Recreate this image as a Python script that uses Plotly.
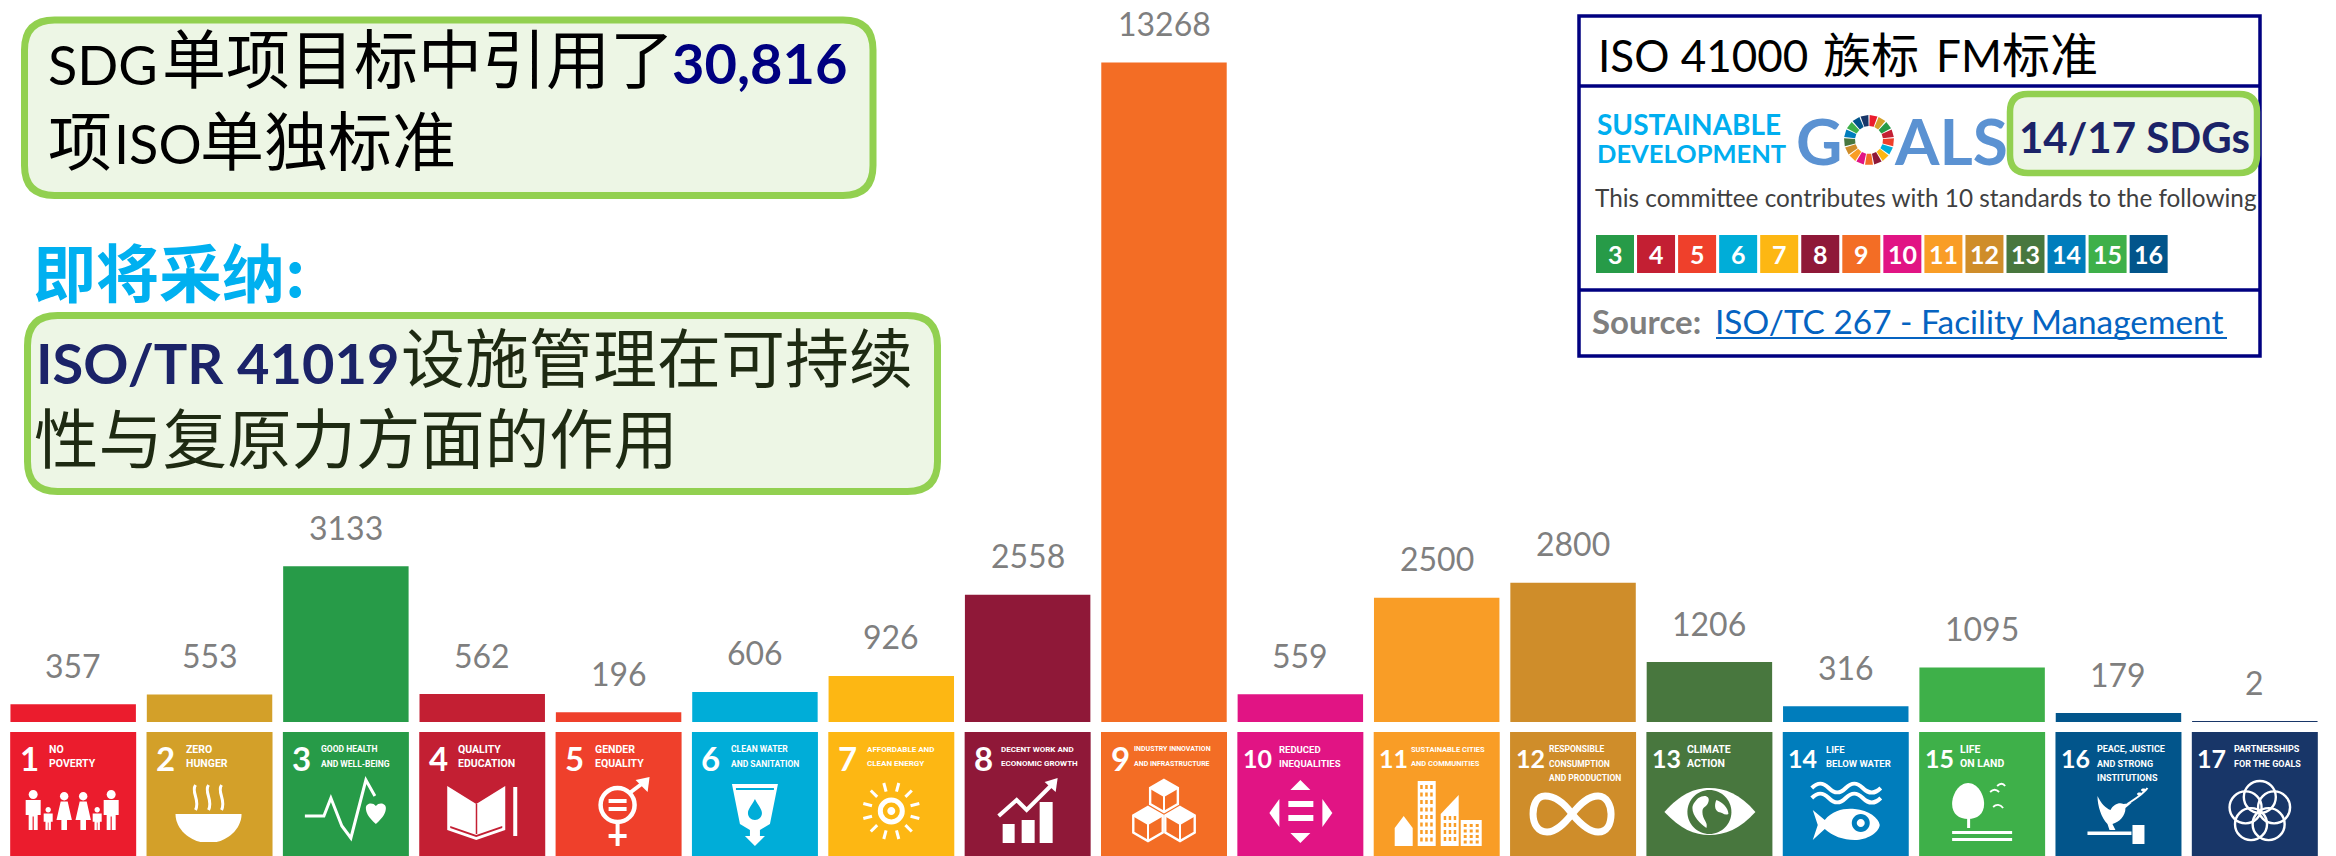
import math
import re
import plotly.graph_objects as go

# Citations per Sustainable Development Goal
goal_numbers = [1, 2, 3, 4, 5, 6, 7, 8, 9, 10, 11, 12, 13, 14, 15, 16, 17]
citations = [357, 553, 3133, 562, 196, 606, 926, 2558, 13268, 559, 2500, 2800, 1206, 316, 1095, 179, 2]
goal_colors = ["#EB1C2D", "#D3A029", "#279B48", "#C31F33", "#EF402B", "#00ADD8", "#FDB713", "#8F1838",
               "#F36D25", "#E11484", "#F99D26", "#CF8D2A", "#48773E", "#007DBC", "#3EB049", "#02558B", "#183668"]
goal_titles = [
    ["NO", "POVERTY"], ["ZERO", "HUNGER"], ["GOOD HEALTH", "AND WELL-BEING"], ["QUALITY", "EDUCATION"],
    ["GENDER", "EQUALITY"], ["CLEAN WATER", "AND SANITATION"], ["AFFORDABLE AND", "CLEAN ENERGY"],
    ["DECENT WORK AND", "ECONOMIC GROWTH"], ["INDUSTRY INNOVATION", "AND INFRASTRUCTURE"],
    ["REDUCED", "INEQUALITIES"], ["SUSTAINABLE CITIES", "AND COMMUNITIES"],
    ["RESPONSIBLE", "CONSUMPTION", "AND PRODUCTION"], ["CLIMATE", "ACTION"], ["LIFE", "BELOW WATER"],
    ["LIFE", "ON LAND"], ["PEACE, JUSTICE", "AND STRONG", "INSTITUTIONS"], ["PARTNERSHIPS", "FOR THE GOALS"],
]
title_offsets = [37, 37, 36, 37, 37, 37, 37, 34, 31, 40, 35, 37, 39, 41, 39, 40, 40]
title_sizes = [10.5, 10.5, 8.5, 10.5, 10.5, 8.5, 8, 8, 7, 9.5, 7.5, 8.5, 10.5, 9.5, 10.5, 9, 9]
committee_goals = [3, 4, 5, 6, 7, 8, 9, 10, 11, 12, 13, 14, 15, 16]

WIDTH, HEIGHT = 2336, 856
PLOT_LEFT, PLOT_RIGHT = 5, 2323
BASELINE = 722
PX_PER_UNIT = 0.0497
TILE_TOP, TILE_W = 732, 126
STEP = (PLOT_RIGHT - PLOT_LEFT) / 17

GREEN, PALE = "#92D050", "#EDF6E5"
NAVY, INK = "#1B2368", "#1E2A12"
LATIN, CJK, TILE_FONT = "Lato", "Noto Sans CJK SC", "Roboto"
CJK_LIFT = 8  # the CJK face sits low in its line box

shapes, notes = [], []


def text(s, x, y, size, color="#000000", font=LATIN, anchor="left", bold=False):
    y = y - CJK_LIFT if font == CJK else y
    notes.append(dict(text=f"<b>{s}</b>" if bold else s, x=x, y=y, xref="x2", yref="y2", showarrow=False,
                      xanchor=anchor, yanchor="middle", font=dict(family=font, size=size, color=color)))


def rounded(x0, y0, x1, y1, r, fill, line, width):
    d = (f"M{x0+r},{y0} L{x1-r},{y0} Q{x1},{y0} {x1},{y0+r} L{x1},{y1-r} Q{x1},{y1} {x1-r},{y1} "
         f"L{x0+r},{y1} Q{x0},{y1} {x0},{y1-r} L{x0},{y0+r} Q{x0},{y0} {x0+r},{y0} Z")
    shapes.append(dict(type="path", path=d, xref="x2", yref="y2", fillcolor=fill, line=dict(color=line, width=width)))


def rect(x0, y0, x1, y1, fill):
    shapes.append(dict(type="rect", x0=x0, y0=y0, x1=x1, y1=y1, xref="x2", yref="y2",
                       fillcolor=fill, line=dict(width=0)))


def hline(x0, x1, y, color, width):
    shapes.append(dict(type="line", x0=x0, x1=x1, y0=y, y1=y, xref="x2", yref="y2", line=dict(color=color, width=width)))


# --- small path builders, all in tile-local pixels ---
def poly(pts, close=True):
    s = "M" + " L".join(f"{a},{b}" for a, b in pts)
    return s + (" Z" if close else "")


def ell(cx, cy, rx, ry=None):
    ry = rx if ry is None else ry
    k = 0.5523
    return (f"M{cx-rx},{cy} C{cx-rx},{cy-k*ry} {cx-k*rx},{cy-ry} {cx},{cy-ry} "
            f"C{cx+k*rx},{cy-ry} {cx+rx},{cy-k*ry} {cx+rx},{cy} "
            f"C{cx+rx},{cy+k*ry} {cx+k*rx},{cy+ry} {cx},{cy+ry} "
            f"C{cx-k*rx},{cy+ry} {cx-rx},{cy+k*ry} {cx-rx},{cy} Z")


def box(x0, y0, x1, y1):
    return poly([(x0, y0), (x1, y0), (x1, y1), (x0, y1)])


def person(cx, top, bottom, w, dress=False):
    head = w * 0.3
    out = [("f", ell(cx, top + head, head))]
    t = top + 2 * head + 1
    if dress:
        out.append(("f", poly([(cx - w * .25, t), (cx + w * .25, t), (cx + w * .55, t + (bottom - t) * .65),
                               (cx + w * .2, t + (bottom - t) * .65), (cx + w * .2, bottom), (cx - w * .2, bottom),
                               (cx - w * .2, t + (bottom - t) * .65), (cx - w * .55, t + (bottom - t) * .65)])))
    else:
        out.append(("f", poly([(cx - w * .5, t), (cx + w * .5, t), (cx + w * .5, t + (bottom - t) * .5),
                               (cx + w * .3, t + (bottom - t) * .5), (cx + w * .3, bottom), (cx + w * .04, bottom),
                               (cx + w * .04, t + (bottom - t) * .55), (cx - w * .04, t + (bottom - t) * .55),
                               (cx - w * .04, bottom), (cx - w * .3, bottom), (cx - w * .3, t + (bottom - t) * .5),
                               (cx - w * .5, t + (bottom - t) * .5)])))
    return out


def cube(cx, cy, r):
    hexa = [(cx + r * math.sin(math.radians(60 * k)), cy - r * math.cos(math.radians(60 * k))) for k in range(6)]
    top_face = [hexa[0], hexa[1], (cx, cy), hexa[5]]
    return [("f", poly(top_face)), ("s", poly(hexa), 2.4), ("s", poly([(cx, cy), hexa[1]], False), 2),
            ("s", poly([(cx, cy), hexa[5]], False), 2), ("s", poly([(cx, cy), hexa[3]], False), 2)]


def icon(n):
    if n == 1:
        return (person(23, 58, 98, 15) + person(38, 75, 98, 9) + person(54, 60, 98, 14, True)
                + person(73, 60, 98, 14, True) + person(87, 75, 98, 9) + person(101, 58, 98, 15))
    if n == 2:
        out = [("f", "M29,82 L95,82 C95,98 80,108 70,110 L54,110 C44,108 29,98 29,82 Z")]
        for x in (49, 62, 75):
            out.append(("s", f"M{x},53 C{x-5},60 {x+5},68 {x},78", 3))
        return out
    if n == 3:
        return [("s", poly([(22, 84), (41, 84), (48, 66), (59, 94), (68, 106), (83, 48), (92, 64)], False), 3),
                ("f", "M93,92 C85,85 83,80 83,76 C83,71 90,70 93,74 C96,70 103,71 103,76 C103,80 101,85 93,92 Z")]
    if n == 4:
        return [("f", poly([(28, 54), (57, 72), (86, 54), (86, 98), (57, 108), (28, 98)])),
                ("c", box(56.5, 72, 58, 102)),
                ("c", poly([(31, 94), (57, 103), (83, 94), (83, 96), (57, 105), (31, 96)])),
                ("f", box(94, 55, 98, 104))]
    if n == 5:
        return [("s", ell(62, 73, 17), 4.5),
                ("f", box(53, 67, 71, 71)), ("f", box(53, 75, 71, 79)),
                ("s", poly([(74, 61), (90, 49)], False), 4),
                ("f", poly([(80, 48), (94, 45), (92, 60)])),
                ("f", box(60, 90, 64, 114)), ("f", box(53, 102, 71, 106))]
    if n == 6:
        return [("f", poly([(40, 52), (86, 52), (78, 92), (68, 98), (68, 104), (73, 104), (63, 114), (53, 104),
                            (58, 104), (58, 98), (48, 92)])),
                ("c", box(44, 56, 82, 58)),
                ("c", "M63,67 C66,73 70,77 70,81 C70,85 67,88 63,88 C59,88 56,85 56,81 C56,77 60,73 63,67 Z")]
    if n == 7:
        out = [("s", ell(63, 79, 11), 5), ("f", ell(63, 79, 4))]
        for k in range(12):
            a = math.radians(30 * k + 15)
            out.append(("s", poly([(round(63 + 20 * math.sin(a), 1), round(79 - 20 * math.cos(a), 1)),
                                   (round(63 + 29 * math.sin(a), 1), round(79 - 29 * math.cos(a), 1))], False), 3))
        return out
    if n == 8:
        return [("f", box(38, 92, 50, 111)), ("f", box(57, 88, 70, 111)), ("f", box(75, 70, 88, 111)),
                ("s", poly([(34, 84), (52, 68), (62, 78), (88, 52)], False), 4),
                ("f", poly([(80, 50), (93, 46), (91, 60)]))]
    if n == 9:
        return cube(63, 64, 16) + cube(47, 92, 17) + cube(79, 92, 17)
    if n == 10:
        return [("f", poly([(63, 48), (73, 58), (53, 58)])), ("f", poly([(63, 111), (73, 101), (53, 101)])),
                ("f", poly([(32, 81), (42, 67), (42, 95)])), ("f", poly([(95, 81), (85, 67), (85, 95)])),
                ("f", box(51, 69, 76, 75)), ("f", box(51, 83, 76, 89))]
    if n == 11:
        out = [("f", poly([(21, 96), (30, 84), (39, 96), (39, 114), (21, 114)])),
               ("f", box(44, 49, 62, 114)),
               ("f", poly([(67, 82), (85, 63), (85, 114), (67, 114)])),
               ("f", box(87, 88, 108, 114))]
        for row in range(8):
            for col in range(3):
                out.append(("c", box(46.5 + col * 5, 53 + row * 7.5, 49 + col * 5, 57 + row * 7.5)))
        for row in range(4):
            for col in range(3):
                out.append(("c", box(70 + col * 5, 84 + row * 7, 72.5 + col * 5, 88 + row * 7)))
                out.append(("c", box(90 + col * 6, 92 + row * 5.5, 93 + col * 6, 95 + row * 5.5)))
        return out
    if n == 12:
        return [("s", "M62,82 C52,68 42,64 35,64 C26,64 23,74 23,82 C23,92 28,100 37,100 C46,100 54,92 62,82 "
                      "C70,72 78,64 88,64 C97,64 101,74 101,82 C101,92 97,100 88,100 C80,100 72,94 62,82 Z", 7)]
    if n == 13:
        return [("f", "M18,80 C34,62 48,56 63,56 C78,56 94,62 109,80 C94,97 78,103 63,103 C48,103 34,97 18,80 Z"),
                ("c", ell(63, 80, 22)),
                ("f", "M52,66 C58,62 64,64 62,70 C60,76 56,74 56,80 C56,88 62,90 60,96 C54,92 46,84 46,76 C46,72 50,68 52,66 Z"),
                ("f", "M70,68 C76,70 82,76 82,82 C78,84 76,80 72,80 C68,78 68,72 70,68 Z")]
    if n == 14:
        out = []
        for y in (56, 66):
            out.append(("s", f"M29,{y} C35,{y-6} 40,{y-6} 46,{y} C52,{y+6} 57,{y+6} 63,{y} "
                             f"C69,{y-6} 74,{y-6} 80,{y} C86,{y+6} 92,{y+6} 98,{y}", 4))
        out += [("f", "M30,78 L42,88 C50,78 62,76 72,77 C86,78 96,86 97,93 C96,101 84,108 72,108 C60,108 50,104 42,97 L30,108 L35,93 Z"),
                ("c", ell(78, 91, 9)), ("f", ell(78, 91, 4))]
        return out
    if n == 15:
        return [("f", "M49,51 C58,51 65,62 65,72 C65,82 58,87 49,87 C40,87 33,82 33,72 C33,62 40,51 49,51 Z"),
                ("f", box(48, 86, 51, 96)), ("f", box(33, 99, 93, 102)), ("f", box(33, 106, 93, 109)),
                ("s", "M71,60 C74,57 77,57 80,60", 1.8), ("s", "M78,54 C81,51 84,51 86,54", 1.8),
                ("s", "M74,75 C77,72 81,72 84,76", 1.8)]
    if n == 16:
        return [("f", "M42,64 C46,72 50,76 55,78 C58,72 64,70 68,72 L76,71 L70,76 C70,84 64,90 57,92 L60,98 L54,98 "
                      "L52,92 C46,86 42,74 42,64 Z"),
                ("s", "M72,72 C78,68 88,62 92,56", 2), ("f", ell(84, 62, 2.5, 1.5)), ("f", ell(88, 58, 2.5, 1.5)),
                ("f", box(32, 99.5, 76, 103)), ("f", box(77, 93, 89, 112))]
    return [("s", ell(68 + 15 * math.sin(math.radians(72 * k)), 80 - 15 * math.cos(math.radians(72 * k)), 16), 2.4)
            for k in range(5)]


PAIR = re.compile(r"(-?\d+\.?\d*),(-?\d+\.?\d*)")


def place(d, ox, oy):
    return PAIR.sub(lambda m: f"{float(m[1]) + ox:.2f},{float(m[2]) + oy:.2f}", d)


# --- goal tiles under each column ---
for n, color, title, off, tsize in zip(goal_numbers, goal_colors, goal_titles, title_offsets, title_sizes):
    left = PLOT_LEFT + (n - 0.5) * STEP - TILE_W / 2
    rect(left, TILE_TOP, left + TILE_W, HEIGHT, color)
    for item in icon(n):
        d = place(item[1], left, TILE_TOP)
        if item[0] == "s":
            shapes.append(dict(type="path", path=d, xref="x2", yref="y2", line=dict(color="white", width=item[2])))
        else:
            shapes.append(dict(type="path", path=d, xref="x2", yref="y2", line=dict(width=0),
                               fillcolor="white" if item[0] == "f" else color))
    text(str(n), left + (20 if n > 9 else 19), TILE_TOP + 26, 25 if n > 9 else 33, "white", LATIN, "center", True)
    for k, line in enumerate(title):
        text(line, left + off, TILE_TOP + 17 + 14.7 * k, tsize, "white", TILE_FONT, "left", True)

# --- call-outs on the left ---
rounded(24.5, 20, 873, 195.5, 30, PALE, GREEN, 7)
text("SDG", 46, 64, 54)
text("单项目标中引用了", 160, 63, 64, font=CJK)
text("30,816", 670, 62, 56, "#000080", bold=True)
text("项", 46, 145, 64, font=CJK)
text("ISO", 112, 143, 54)
text("单独标准", 198, 145, 64, font=CJK)

text("即将采纳:", 31, 277, 63, "#00B0F0", CJK, bold=True)

rounded(27.5, 315.5, 937.5, 491.5, 30, PALE, GREEN, 7)
text("ISO/TR 41019", 34, 362, 56, NAVY, bold=True)
text("设施管理在可持续", 399, 362, 64, INK, CJK)
text("性与复原力方面的作用", 32, 443, 64.4, INK, CJK)

# --- committee panel on the right ---
shapes.append(dict(type="rect", x0=1579, y0=16, x1=2260, y1=356, xref="x2", yref="y2",
                   line=dict(color="#000080", width=3.5)))
hline(1579, 2260, 86, "#000080", 3.5)
hline(1579, 2260, 290, "#000080", 3.5)
text("ISO 41000", 1596, 55, 44)
text("族标", 1821, 60, 48, font=CJK)
text("FM", 1934, 55, 44)
text("标准", 2000, 60, 48, font=CJK)

text("SUSTAINABLE", 1595, 124, 28, "#00AEEF", bold=True)
text("DEVELOPMENT", 1595, 153, 25.5, "#00AEEF", bold=True)
text("G", 1794, 140, 64, "#5B92D2", bold=True)
text("ALS", 1892, 140, 64, "#5B92D2", bold=True)

# SDG colour wheel standing in for the O of the logo
for k, color in enumerate(goal_colors):
    a0, a1 = [math.radians(v) for v in (k * 360 / 17 + 1.5, (k + 1) * 360 / 17 - 1.5)]
    pts = [(1869 + r * math.sin(a), 140 - r * math.cos(a)) for r, a in ((25, a0), (25, a1), (14, a1), (14, a0))]
    shapes.append(dict(type="path", path=poly([(round(a, 2), round(b, 2)) for a, b in pts]), xref="x2", yref="y2",
                       fillcolor=color, line=dict(width=0)))

rounded(2010, 94, 2257, 173, 18, PALE, GREEN, 6.5)
text("14/17 SDGs", 2017, 137, 42, NAVY, bold=True)
text("This committee contributes with 10 standards to the following", 1593, 197, 24.3, "#404040")

for k, n in enumerate(committee_goals):
    x0 = 1596 + k * 41.05
    rect(x0, 235, x0 + 38, 273, goal_colors[n - 1])
    text(str(n), x0 + 19, 254, 25, "white", LATIN, "center", True)

text("Source:", 1590, 321, 33, "#7F7F7F", bold=True)
text("ISO/TC 267 - Facility Management", 1713, 321, 33.4, "#0563C1")
hline(1716, 2227, 338, "#0563C1", 2)

# --- column labels sit a fixed distance above each column ---
for n, v in zip(goal_numbers, citations):
    notes.append(dict(text=str(v), x=n, y=v, xref="x", yref="y", yshift=39, showarrow=False, yanchor="middle",
                      font=dict(family=LATIN, size=32, color="#7F7F7F")))

fig = go.Figure()
fig.add_trace(go.Bar(x=goal_numbers, y=citations, marker=dict(color=goal_colors, line=dict(width=0)),
                     hoverinfo="x+y", showlegend=False))
fig.add_trace(go.Scatter(x=[0, WIDTH], y=[HEIGHT, 0], xaxis="x2", yaxis="y2", mode="none",
                         hoverinfo="skip", showlegend=False))
fig.update_layout(
    width=WIDTH, height=HEIGHT, autosize=False,
    margin=dict(l=0, r=0, t=0, b=0),
    paper_bgcolor="white", plot_bgcolor="rgba(0,0,0,0)",
    bargap=0.08,
    xaxis=dict(domain=[PLOT_LEFT / WIDTH, PLOT_RIGHT / WIDTH], range=[0.5, 17.5], visible=False),
    yaxis=dict(domain=[(HEIGHT - BASELINE) / HEIGHT, 1], range=[0, BASELINE / PX_PER_UNIT], visible=False),
    xaxis2=dict(domain=[0, 1], range=[0, WIDTH], visible=False, anchor="y2"),
    yaxis2=dict(domain=[0, 1], range=[HEIGHT, 0], visible=False, anchor="x2"),
    shapes=shapes, annotations=notes,
)
fig.write_html("out.html", config=dict(displayModeBar=False))
